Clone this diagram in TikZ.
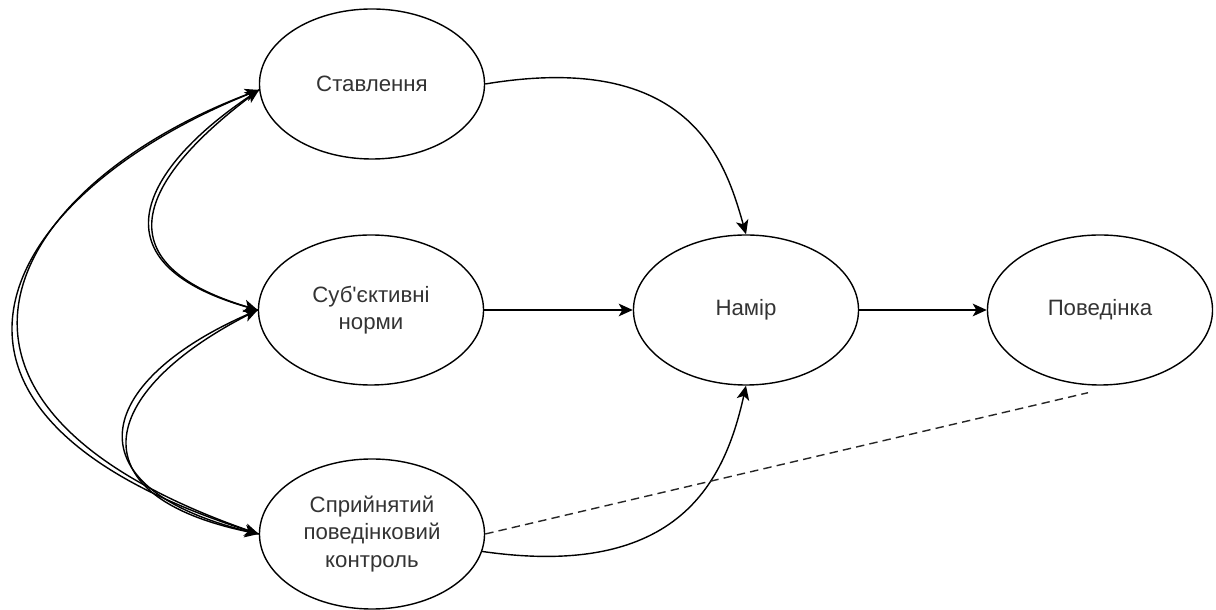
\documentclass[tikz,border=0pt]{standalone}
\usepackage{fontspec}
\setmainfont{Liberation Sans}
\usepackage{tikz}
\usetikzlibrary{positioning,arrows.meta}
\usetikzlibrary{shapes.geometric}
\tikzset{
  tpbnode/.style = {align=center, inner sep=0pt, text centered,
    font=\fontsize{15.8}{19.4}\selectfont, text=black!80},
  tpb_e/.style = {tpbnode, ellipse, draw=black, line width=1pt,
    minimum width=5.625cm, minimum height=3.75cm},% construct
  tpb_d/.style = {-, dash pattern=on 0.21cm off 0.13cm, draw=black!85}% actual control
}

\begin{document}
\begin{tikzpicture}[->,>={Stealth[length=10pt,width=9pt,inset=2.6pt]},
  x=0.025cm, y=0.025cm, line width=1pt]
\useasboundingbox (0,0) rectangle (1216,610);
\node (att)    [tpb_e] at (372,526)  {Ставлення};
\node (norm)   [tpb_e] at (371,300)  {Суб\textquotesingle єктивні\\норми};
\node (ctrl)   [tpb_e] at (372,76)   {Сприйнятий\\поведінковий\\контроль};
\node (intent) [tpb_e] at (746,300)  {Намір};
\node (behav)  [tpb_e] at (1100,300) {Поведінка};
%
\draw (att.east) .. controls (690,560) and (725,450) .. (intent.north);
\draw (norm.east) -- (intent.west);
\draw (ctrl.-9) .. controls (680,30) and (725,130) .. (intent.south);
\draw (intent.east) -- (behav.west);
\draw[tpb_d] (ctrl.east) -- ([xshift=-0.3cm,yshift=-0.175cm]behav.south);
% two-way links on the left
\draw (att.183) .. controls (150,440) and (90,350) .. (norm.west);
\draw (norm.west) .. controls (84,345) and (145,444) .. (att.183);
\draw (norm.west) .. controls (98,222) and (70,115) .. (ctrl.west);
\draw (ctrl.west) .. controls (64,120) and (93,228) .. (norm.west);
\draw (att.183) .. controls (0,420) and (-130,200) .. (ctrl.west);
\draw (ctrl.west) .. controls (-124,205) and (6,425) .. (att.183);
\end{tikzpicture}
\end{document}
